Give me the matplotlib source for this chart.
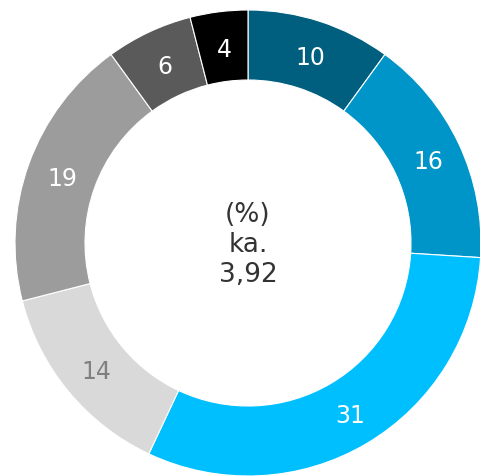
import matplotlib
matplotlib.use('Agg')
import matplotlib.pyplot as plt

values = [10, 16, 31, 14, 19, 6, 4]
labels = ['10', '16', '31', '14', '19', '6', '4']
colors = ['#005f7f', '#0095c8', '#00bfff', '#d9d9d9', '#9c9c9c', '#5a5a5a', '#000000']
label_colors = ['white', 'white', 'white', '#808080', 'white', 'white', 'white']
center_text = '(%)\nka.\n3,92'

fig = plt.figure(figsize=(4.8, 4.76), dpi=100)
ax = fig.add_axes([0, 0, 1, 1])

# pixel-like data coordinates
cx, cy = 248, 476 - 243
r_out, r_in = 233, 163
wedges, texts = ax.pie(values, colors=colors, startangle=90, counterclock=False,
                       radius=r_out, center=(cx, cy), labels=labels,
                       labeldistance=(r_out + r_in) / 2 / r_out,
                       wedgeprops=dict(width=r_out - r_in, edgecolor='white', linewidth=0.8),
                       textprops=dict(fontsize=17, ha='center', va='center'))
for t, c in zip(texts, label_colors):
    t.set_color(c)
    x, y = t.get_position()
    t.set_position((x + 1, y - 3))

ax.text(cx, cy - 2, center_text, ha='center', va='center', fontsize=19,
        color='#333333', linespacing=1.2)

ax.set_xlim(0, 480)
ax.set_ylim(0, 476)
ax.set_aspect('equal')
ax.axis('off')

fig.savefig('out.png', dpi=100)
